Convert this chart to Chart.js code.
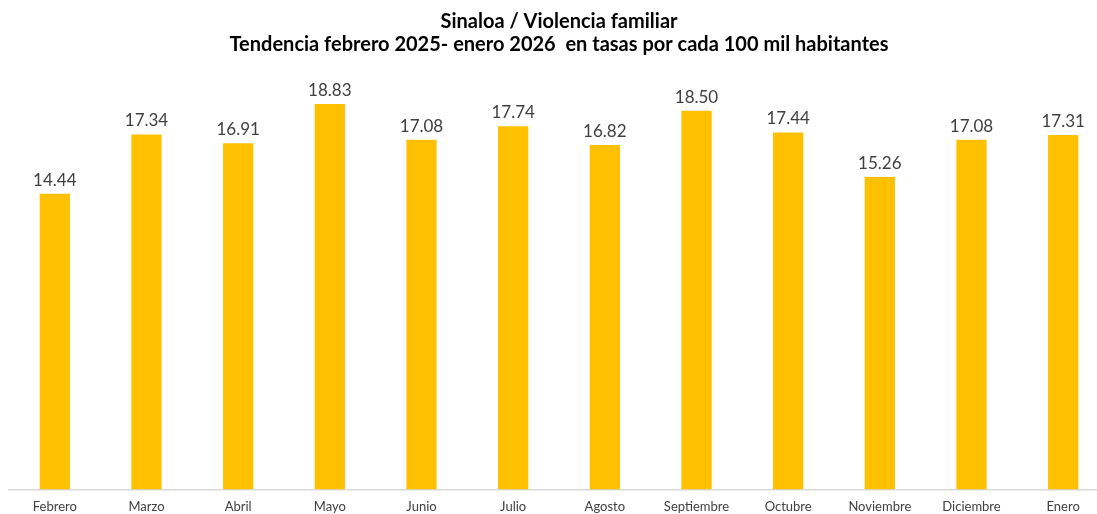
<!DOCTYPE html>
<html>
<head>
<meta charset="utf-8">
<script src="https://cdn.jsdelivr.net/npm/chart.js@4"></script>
<style>
  html, body { margin: 0; padding: 0; background: #fff; overflow: hidden; }
  #wrap { width: 1110px; height: 519px; }
</style>
</head>
<body>
<div id="wrap"><canvas id="chart" width="1110" height="519"></canvas></div>
<script>
const months = ["Febrero", "Marzo", "Abril", "Mayo", "Junio", "Julio", "Agosto",
  "Septiembre", "Octubre", "Noviembre", "Diciembre", "Enero"];
const tasas = [14.44, 17.34, 16.91, 18.83, 17.08, 17.74, 16.82, 18.50, 17.44, 15.26, 17.08, 17.31];
const titleLines = ["Sinaloa / Violencia familiar",
  "Tendencia febrero 2025- enero 2026  en tasas por cada 100 mil habitantes"];

// value labels above each bar
const barLabels = {
  id: "barLabels",
  afterDatasetsDraw(chart) {
    const ctx = chart.ctx;
    const meta = chart.getDatasetMeta(0);
    ctx.save();
    ctx.font = "17px Lato";
    ctx.fillStyle = "#404040";
    ctx.textAlign = "center";
    ctx.textBaseline = "bottom";
    meta.data.forEach((bar, i) => {
      ctx.fillText(tasas[i].toFixed(2), bar.x, bar.y - 5);
    });
    ctx.restore();
  }
};

new Chart(document.getElementById("chart").getContext("2d"), {
  type: "bar",
  data: {
    labels: months,
    datasets: [{
      data: tasas,
      backgroundColor: "#FFC000",
      barPercentage: 0.33,
      categoryPercentage: 1
    }]
  },
  options: {
    responsive: false,
    animation: false,
    layout: { padding: { left: 9, right: 1, top: 0, bottom: 2 } },
    scales: {
      x: {
        grid: { display: false },
        border: { display: true, color: "#d9d9d9", width: 1.5 },
        ticks: { color: "#404040", font: { family: "Lato", size: 13 }, padding: 2 }
      },
      y: {
        display: false,
        min: 0,
        max: 20
      }
    },
    plugins: {
      legend: { display: false },
      tooltip: { enabled: false },
      title: {
        display: true,
        text: titleLines,
        color: "#000",
        font: { family: "Lato", size: 20, weight: "bold", lineHeight: 1.15 },
        padding: { top: 10, bottom: 24 }
      }
    }
  },
  plugins: [barLabels]
});
</script>
</body>
</html>
